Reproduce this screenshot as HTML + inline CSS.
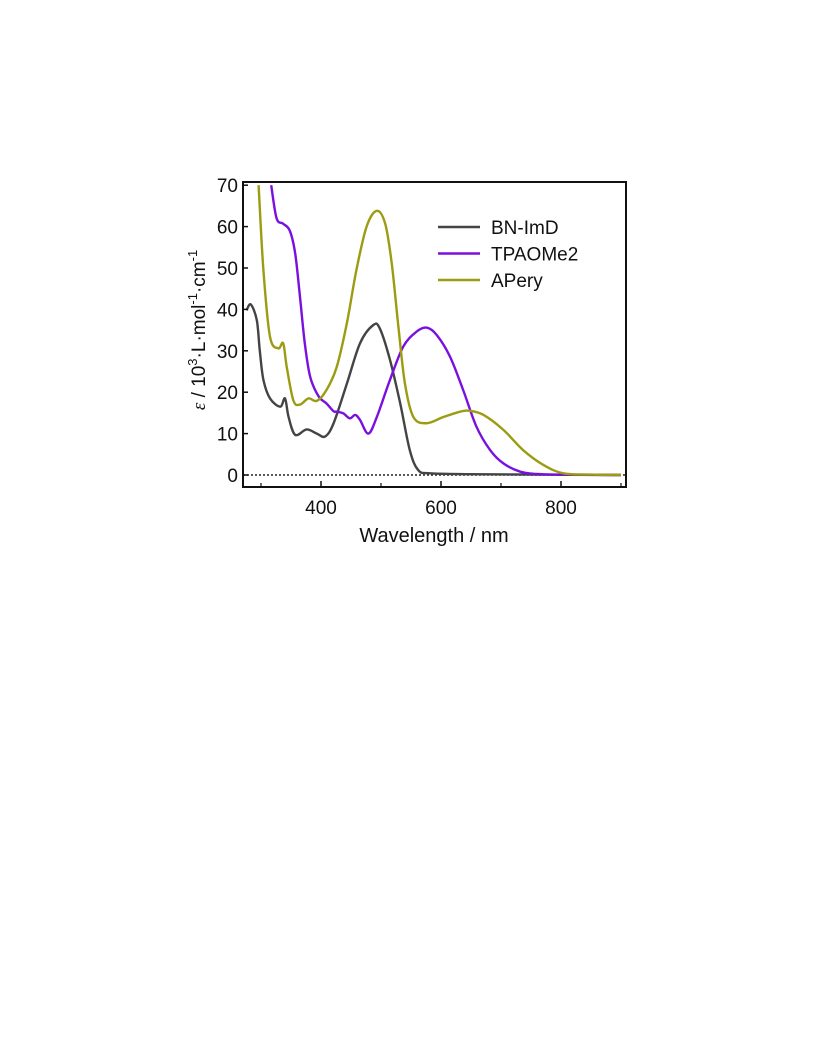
<!DOCTYPE html>
<html><head><meta charset="utf-8"><style>
body{margin:0;background:#fff;}
svg text{font-family:"Liberation Sans",sans-serif;fill:#111;}
</style></head><body>
<svg width="816" height="1056" viewBox="0 0 816 1056">
<g id="plot"></g>
</svg>
<script>
const wlBN=[276,283,293,298,304,315,332,340,346,357,376,393,407,421,443,465,487,498,515,532,548,562,582,650,750,900];
const epsBN=[39.8,41.2,37.4,30,23,18.5,16.5,18.5,14,9.7,11,10,9.3,12.5,22,31.8,36.2,35.4,27.8,17.3,6,1.2,0.4,0.2,0.1,0];
const wlTP=[317,326,337,348,357,365,373,382,396,409,421,426,437,448,457,465,479,493,515,537,559,576,593,615,637,659,682,704,732,759,800,900];
const epsTP=[70,62,60.7,59,53.5,43,31.8,23.7,19,17.3,15.4,15.3,14.9,13.7,14.5,13.3,10,14,23,31,34.6,35.6,33.8,28.6,20.5,11.7,6,2.8,0.8,0.25,0.1,0];
const wlAP=[296,304,315,329,337,343,354,365,379,393,409,426,443,459,476,493,507,518,529,540,554,576,604,632,648,671,704,737,771,804,850,900];
const epsAP=[70,49.5,33.4,30.6,31.8,26,18,17,18.5,17.9,20.5,26,36.6,49.5,60,63.8,60.7,51,35.8,22,14,12.5,14,15.3,15.5,14.5,10.9,6,2.4,0.4,0.1,0];
const xTicks=[400,600,800];
const xMinor=[300,500,700,900];
const yTicks=[0,10,20,30,40,50,60,70];
const seriesNames=["BN-ImD","TPAOMe2","APery"];

const L=243,R=626,T=182,B=487;
const X=v=>321+(v-400)*0.6;
const Y=v=>475-v*4.14;
const NS="http://www.w3.org/2000/svg";
const g=document.getElementById('plot');
function mk(t,a){const e=document.createElementNS(NS,t);for(const k in a)e.setAttribute(k,a[k]);g.appendChild(e);return e;}

const zl=mk('line',{x1:L,x2:R,y1:Y(0),y2:Y(0),stroke:'#222','stroke-width':1.5,'stroke-dasharray':'2,2'});



function path(xs,ys){
  const p=xs.map((x,i)=>[X(x),Y(ys[i])]);
  let d='M'+p[0][0]+','+p[0][1];
  for(let i=0;i<p.length-1;i++){
    const p0=p[Math.max(0,i-1)],p1=p[i],p2=p[i+1],p3=p[Math.min(p.length-1,i+2)];
    const c1=[p1[0]+(p2[0]-p0[0])/6,p1[1]+(p2[1]-p0[1])/6];
    const c2=[p2[0]-(p3[0]-p1[0])/6,p2[1]-(p3[1]-p1[1])/6];
    d+=` C${c1[0]},${c1[1]} ${c2[0]},${c2[1]} ${p2[0]},${p2[1]}`;
  }
  return d;
}
const cols=['#444444','#7a10e0','#9c9c12'];
const data=[[wlBN,epsBN],[wlTP,epsTP],[wlAP,epsAP]];
data.forEach((s,i)=>{
  const e=mk('path',{d:path(s[0],s[1]),fill:'none',stroke:cols[i],'stroke-width':2.4,'stroke-linejoin':'round'});
  
  
});

const fr=mk('rect',{x:L,y:T,width:R-L,height:B-T,fill:'none',stroke:'#111','stroke-width':2});



xTicks.forEach(v=>{
  const t=mk('line',{x1:X(v),x2:X(v),y1:B,y2:B-6,stroke:'#111','stroke-width':1.5});
  
  
  const l=mk('text',{x:X(v),y:B+27,'text-anchor':'middle','font-size':19});
  l.textContent=v;
  
  
});
xMinor.forEach(v=>{
  const t=mk('line',{x1:X(v),x2:X(v),y1:B,y2:B-4,stroke:'#111','stroke-width':1.2});
  
  
});
yTicks.forEach(v=>{
  const t=mk('line',{x1:L,x2:L+5,y1:Y(v),y2:Y(v),stroke:'#111','stroke-width':1.5});
  
  
  const l=mk('text',{x:L-5,y:Y(v)+7,'text-anchor':'end','font-size':19});
  l.textContent=v;
  
  
});

const xt=mk('text',{x:434,y:542,'text-anchor':'middle','font-size':20});
xt.textContent='Wavelength  / nm';
xt.setAttribute('xml:space','preserve');



const yt=mk('text',{transform:'translate(205,330) rotate(-90)','text-anchor':'middle','font-size':19});
yt.innerHTML='<tspan font-style="italic" font-family="Liberation Serif">ε</tspan> / 10<tspan dy="-8" font-size="13">3</tspan><tspan dy="8">·L·mol</tspan><tspan dy="-8" font-size="13">-1</tspan><tspan dy="8">·cm</tspan><tspan dy="-8" font-size="13">-1</tspan>';



seriesNames.forEach((n,i)=>{
  const y=227+i*26.5;
  const ln=mk('line',{x1:438,x2:480,y1:y,y2:y,stroke:cols[i],'stroke-width':2.4});
  
  
  const t=mk('text',{x:491,y:y+7,'font-size':19});
  t.textContent=n;
  
  
});
</script>
</body></html>
